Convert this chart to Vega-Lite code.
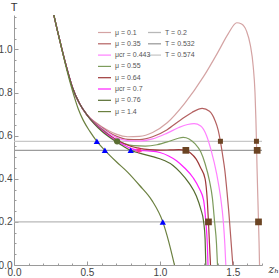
{
"$schema": "https://vega.github.io/schema/vega-lite/v6.json",
"autosize": {"type": "none"},
"width": 248, "height": 250,
"padding": {"left": 14, "top": 15, "right": 17, "bottom": 13},
"background": "white",
"config": {"view": {"stroke": null}, "font": "Liberation Sans"},
"datasets": {
"tl": [
{"z":0,"T":0.2,"line":"T = 0.2"},{"z":1.7,"T":0.2,"line":"T = 0.2"},
{"z":0,"T":0.532,"line":"T = 0.532"},{"z":1.7,"T":0.532,"line":"T = 0.532"},
{"z":0,"T":0.574,"line":"T = 0.574"},{"z":1.7,"T":0.574,"line":"T = 0.574"}],
"curves": [
{"mu":"μ = 0.1","z":0.259,"T":1.2},{"mu":"μ = 0.1","z":0.274,"T":1.157},{"mu":"μ = 0.1","z":0.30,"T":1.08},{"mu":"μ = 0.1","z":0.33,"T":0.997},{"mu":"μ = 0.1","z":0.36,"T":0.918},{"mu":"μ = 0.1","z":0.40,"T":0.825},{"mu":"μ = 0.1","z":0.45,"T":0.748},{"mu":"μ = 0.1","z":0.50,"T":0.697},
{"mu":"μ = 0.1","z":0.55,"T":0.667},{"mu":"μ = 0.1","z":0.60,"T":0.643},{"mu":"μ = 0.1","z":0.65,"T":0.623},{"mu":"μ = 0.1","z":0.70,"T":0.607},{"mu":"μ = 0.1","z":0.78,"T":0.595},{"mu":"μ = 0.1","z":0.86,"T":0.597},{"mu":"μ = 0.1","z":0.95,"T":0.615},{"mu":"μ = 0.1","z":1.05,"T":0.66},{"mu":"μ = 0.1","z":1.17,"T":0.75},{"mu":"μ = 0.1","z":1.30,"T":0.875},{"mu":"μ = 0.1","z":1.40,"T":0.99},{"mu":"μ = 0.1","z":1.47,"T":1.075},{"mu":"μ = 0.1","z":1.527,"T":1.124},{"mu":"μ = 0.1","z":1.56,"T":1.118},{"mu":"μ = 0.1","z":1.594,"T":1.085},{"mu":"μ = 0.1","z":1.62,"T":1.02},{"mu":"μ = 0.1","z":1.64,"T":0.92},{"mu":"μ = 0.1","z":1.652,"T":0.8},{"mu":"μ = 0.1","z":1.658,"T":0.68},{"mu":"μ = 0.1","z":1.662,"T":0.574},{"mu":"μ = 0.1","z":1.666,"T":0.45},{"mu":"μ = 0.1","z":1.672,"T":0.3},{"mu":"μ = 0.1","z":1.676,"T":0.2},{"mu":"μ = 0.1","z":1.68,"T":0.1},{"mu":"μ = 0.1","z":1.683,"T":0},

{"mu":"μ = 0.35","z":0.259,"T":1.2},{"mu":"μ = 0.35","z":0.274,"T":1.157},{"mu":"μ = 0.35","z":0.30,"T":1.08},{"mu":"μ = 0.35","z":0.33,"T":0.997},{"mu":"μ = 0.35","z":0.36,"T":0.918},{"mu":"μ = 0.35","z":0.40,"T":0.825},{"mu":"μ = 0.35","z":0.45,"T":0.748},{"mu":"μ = 0.35","z":0.50,"T":0.697},
{"mu":"μ = 0.35","z":0.55,"T":0.664},{"mu":"μ = 0.35","z":0.60,"T":0.639},{"mu":"μ = 0.35","z":0.65,"T":0.616},{"mu":"μ = 0.35","z":0.70,"T":0.598},{"mu":"μ = 0.35","z":0.78,"T":0.583},{"mu":"μ = 0.35","z":0.86,"T":0.582},{"mu":"μ = 0.35","z":0.95,"T":0.595},{"mu":"μ = 0.35","z":1.05,"T":0.628},{"mu":"μ = 0.35","z":1.14,"T":0.672},{"mu":"μ = 0.35","z":1.22,"T":0.708},{"mu":"μ = 0.35","z":1.29,"T":0.727},{"mu":"μ = 0.35","z":1.34,"T":0.713},{"mu":"μ = 0.35","z":1.377,"T":0.672},{"mu":"μ = 0.35","z":1.40,"T":0.625},{"mu":"μ = 0.35","z":1.415,"T":0.574},{"mu":"μ = 0.35","z":1.43,"T":0.51},{"mu":"μ = 0.35","z":1.445,"T":0.44},{"mu":"μ = 0.35","z":1.46,"T":0.34},{"mu":"μ = 0.35","z":1.472,"T":0.25},{"mu":"μ = 0.35","z":1.48,"T":0.18},{"mu":"μ = 0.35","z":1.49,"T":0.09},{"mu":"μ = 0.35","z":1.50,"T":0},

{"mu":"μcr = 0.443","z":0.259,"T":1.2},{"mu":"μcr = 0.443","z":0.274,"T":1.157},{"mu":"μcr = 0.443","z":0.30,"T":1.08},{"mu":"μcr = 0.443","z":0.33,"T":0.997},{"mu":"μcr = 0.443","z":0.36,"T":0.918},{"mu":"μcr = 0.443","z":0.40,"T":0.825},{"mu":"μcr = 0.443","z":0.45,"T":0.748},{"mu":"μcr = 0.443","z":0.50,"T":0.697},
{"mu":"μcr = 0.443","z":0.55,"T":0.662},{"mu":"μcr = 0.443","z":0.60,"T":0.636},{"mu":"μcr = 0.443","z":0.65,"T":0.612},{"mu":"μcr = 0.443","z":0.70,"T":0.592},{"mu":"μcr = 0.443","z":0.78,"T":0.577},{"mu":"μcr = 0.443","z":0.86,"T":0.575},{"mu":"μcr = 0.443","z":0.95,"T":0.585},{"mu":"μcr = 0.443","z":1.05,"T":0.612},{"mu":"μcr = 0.443","z":1.13,"T":0.638},{"mu":"μcr = 0.443","z":1.19,"T":0.652},{"mu":"μcr = 0.443","z":1.235,"T":0.656},{"mu":"μcr = 0.443","z":1.28,"T":0.645},{"mu":"μcr = 0.443","z":1.32,"T":0.60},{"mu":"μcr = 0.443","z":1.35,"T":0.535},{"mu":"μcr = 0.443","z":1.39,"T":0.42},{"mu":"μcr = 0.443","z":1.415,"T":0.32},{"mu":"μcr = 0.443","z":1.435,"T":0.2},{"mu":"μcr = 0.443","z":1.445,"T":0.1},{"mu":"μcr = 0.443","z":1.452,"T":0},

{"mu":"μ = 0.55","z":0.259,"T":1.2},{"mu":"μ = 0.55","z":0.274,"T":1.157},{"mu":"μ = 0.55","z":0.30,"T":1.08},{"mu":"μ = 0.55","z":0.33,"T":0.997},{"mu":"μ = 0.55","z":0.36,"T":0.918},{"mu":"μ = 0.55","z":0.40,"T":0.825},{"mu":"μ = 0.55","z":0.45,"T":0.748},{"mu":"μ = 0.55","z":0.50,"T":0.697},
{"mu":"μ = 0.55","z":0.55,"T":0.66},{"mu":"μ = 0.55","z":0.60,"T":0.632},{"mu":"μ = 0.55","z":0.65,"T":0.605},{"mu":"μ = 0.55","z":0.707,"T":0.576},{"mu":"μ = 0.55","z":0.76,"T":0.562},{"mu":"μ = 0.55","z":0.82,"T":0.554},{"mu":"μ = 0.55","z":0.90,"T":0.552},{"mu":"μ = 0.55","z":0.98,"T":0.558},{"mu":"μ = 0.55","z":1.06,"T":0.573},{"mu":"μ = 0.55","z":1.12,"T":0.587},{"mu":"μ = 0.55","z":1.16,"T":0.592},{"mu":"μ = 0.55","z":1.20,"T":0.585},{"mu":"μ = 0.55","z":1.24,"T":0.563},{"mu":"μ = 0.55","z":1.28,"T":0.525},{"mu":"μ = 0.55","z":1.31,"T":0.47},{"mu":"μ = 0.55","z":1.34,"T":0.39},{"mu":"μ = 0.55","z":1.36,"T":0.31},{"mu":"μ = 0.55","z":1.375,"T":0.2},{"mu":"μ = 0.55","z":1.388,"T":0.1},{"mu":"μ = 0.55","z":1.395,"T":0},

{"mu":"μ = 0.64","z":0.259,"T":1.2},{"mu":"μ = 0.64","z":0.274,"T":1.157},{"mu":"μ = 0.64","z":0.30,"T":1.08},{"mu":"μ = 0.64","z":0.33,"T":0.997},{"mu":"μ = 0.64","z":0.36,"T":0.918},{"mu":"μ = 0.64","z":0.40,"T":0.825},{"mu":"μ = 0.64","z":0.45,"T":0.748},{"mu":"μ = 0.64","z":0.50,"T":0.697},
{"mu":"μ = 0.64","z":0.55,"T":0.658},{"mu":"μ = 0.64","z":0.60,"T":0.628},{"mu":"μ = 0.64","z":0.65,"T":0.603},{"mu":"μ = 0.64","z":0.70,"T":0.582},{"mu":"μ = 0.64","z":0.75,"T":0.565},{"mu":"μ = 0.64","z":0.80,"T":0.551},{"mu":"μ = 0.64","z":0.86,"T":0.541},{"mu":"μ = 0.64","z":0.93,"T":0.535},{"mu":"μ = 0.64","z":1.0,"T":0.533},{"mu":"μ = 0.64","z":1.07,"T":0.534},{"mu":"μ = 0.64","z":1.13,"T":0.535},{"mu":"μ = 0.64","z":1.178,"T":0.532},{"mu":"μ = 0.64","z":1.21,"T":0.52},{"mu":"μ = 0.64","z":1.25,"T":0.49},{"mu":"μ = 0.64","z":1.28,"T":0.45},{"mu":"μ = 0.64","z":1.31,"T":0.40},{"mu":"μ = 0.64","z":1.325,"T":0.30},{"mu":"μ = 0.64","z":1.333,"T":0.2},{"mu":"μ = 0.64","z":1.34,"T":0.1},{"mu":"μ = 0.64","z":1.347,"T":0},

{"mu":"μcr = 0.7","z":0.259,"T":1.2},{"mu":"μcr = 0.7","z":0.274,"T":1.157},{"mu":"μcr = 0.7","z":0.30,"T":1.08},{"mu":"μcr = 0.7","z":0.33,"T":0.997},{"mu":"μcr = 0.7","z":0.36,"T":0.918},{"mu":"μcr = 0.7","z":0.40,"T":0.825},{"mu":"μcr = 0.7","z":0.45,"T":0.748},{"mu":"μcr = 0.7","z":0.50,"T":0.697},
{"mu":"μcr = 0.7","z":0.55,"T":0.657},{"mu":"μcr = 0.7","z":0.60,"T":0.626},{"mu":"μcr = 0.7","z":0.65,"T":0.60},{"mu":"μcr = 0.7","z":0.70,"T":0.578},{"mu":"μcr = 0.7","z":0.75,"T":0.558},{"mu":"μcr = 0.7","z":0.80,"T":0.541},{"mu":"μcr = 0.7","z":0.856,"T":0.532},{"mu":"μcr = 0.7","z":0.92,"T":0.529},{"mu":"μcr = 0.7","z":1.0,"T":0.522},{"mu":"μcr = 0.7","z":1.06,"T":0.506},{"mu":"μcr = 0.7","z":1.114,"T":0.484},{"mu":"μcr = 0.7","z":1.17,"T":0.45},{"mu":"μcr = 0.7","z":1.228,"T":0.405},{"mu":"μcr = 0.7","z":1.27,"T":0.355},{"mu":"μcr = 0.7","z":1.30,"T":0.30},{"mu":"μcr = 0.7","z":1.315,"T":0.2},{"mu":"μcr = 0.7","z":1.325,"T":0.1},{"mu":"μcr = 0.7","z":1.33,"T":0},

{"mu":"μ = 0.76","z":0.259,"T":1.2},{"mu":"μ = 0.76","z":0.274,"T":1.157},{"mu":"μ = 0.76","z":0.30,"T":1.08},{"mu":"μ = 0.76","z":0.33,"T":0.997},{"mu":"μ = 0.76","z":0.36,"T":0.918},{"mu":"μ = 0.76","z":0.40,"T":0.825},{"mu":"μ = 0.76","z":0.45,"T":0.748},{"mu":"μ = 0.76","z":0.50,"T":0.697},
{"mu":"μ = 0.76","z":0.55,"T":0.655},{"mu":"μ = 0.76","z":0.60,"T":0.622},{"mu":"μ = 0.76","z":0.65,"T":0.595},{"mu":"μ = 0.76","z":0.70,"T":0.572},{"mu":"μ = 0.76","z":0.75,"T":0.551},{"mu":"μ = 0.76","z":0.80,"T":0.532},{"mu":"μ = 0.76","z":0.86,"T":0.519},{"mu":"μ = 0.76","z":0.95,"T":0.503},{"mu":"μ = 0.76","z":1.03,"T":0.485},{"mu":"μ = 0.76","z":1.09,"T":0.462},{"mu":"μ = 0.76","z":1.14,"T":0.43},{"mu":"μ = 0.76","z":1.20,"T":0.38},{"mu":"μ = 0.76","z":1.25,"T":0.32},{"mu":"μ = 0.76","z":1.28,"T":0.26},{"mu":"μ = 0.76","z":1.30,"T":0.2},{"mu":"μ = 0.76","z":1.31,"T":0.12},{"mu":"μ = 0.76","z":1.315,"T":0},

{"mu":"μ = 1.4","z":0.259,"T":1.2},{"mu":"μ = 1.4","z":0.274,"T":1.157},{"mu":"μ = 1.4","z":0.30,"T":1.08},{"mu":"μ = 1.4","z":0.33,"T":0.995},{"mu":"μ = 1.4","z":0.36,"T":0.91},{"mu":"μ = 1.4","z":0.40,"T":0.81},{"mu":"μ = 1.4","z":0.44,"T":0.725},{"mu":"μ = 1.4","z":0.475,"T":0.671},{"mu":"μ = 1.4","z":0.52,"T":0.62},{"mu":"μ = 1.4","z":0.568,"T":0.574},{"mu":"μ = 1.4","z":0.623,"T":0.532},{"mu":"μ = 1.4","z":0.70,"T":0.48},{"mu":"μ = 1.4","z":0.78,"T":0.43},{"mu":"μ = 1.4","z":0.86,"T":0.37},{"mu":"μ = 1.4","z":0.945,"T":0.30},{"mu":"μ = 1.4","z":1.02,"T":0.2},{"mu":"μ = 1.4","z":1.06,"T":0.11},{"mu":"μ = 1.4","z":1.10,"T":0}
],
"tri": [{"z":0.568,"T":0.574},{"z":0.623,"T":0.532},{"z":0.80,"T":0.532},{"z":1.02,"T":0.2}],
"dot": [{"z":0.707,"T":0.574}],
"star": [{"z":0.856,"T":0.532}],
"sqbig": [{"z":1.178,"T":0.532},{"z":1.667,"T":0.532},{"z":1.333,"T":0.2},{"z":1.676,"T":0.2}],
"sqsmall": [{"z":1.415,"T":0.574},{"z":1.662,"T":0.574}]
},
"encoding": {
"x": {"field": "z", "type": "quantitative", "scale": {"domain": [0, 1.7], "nice": false, "zero": false},
 "axis": {"orient": "bottom", "values": [0,0.1,0.2,0.3,0.4,0.5,0.6,0.7,0.8,0.9,1.0,1.1,1.2,1.3,1.4,1.5,1.6,1.7],
  "labelExpr": "abs(datum.value*2 - round(datum.value*2)) < 0.001 ? format(datum.value, '.1f') : ''",
  "tickSize": {"condition": {"test": "abs(datum.value*2 - round(datum.value*2)) < 0.001", "value": -4}, "value": -2},
  "grid": false, "domainColor": "#9a9a9a", "tickColor": "#9a9a9a", "labelColor": "#444", "labelFontSize": 10,
  "labelPadding": 6, "labelOverlap": false, "labelFlush": false, "labelBound": false,
  "title": "zₕ", "titleAnchor": "start", "titleAlign": "left", "titleBaseline": "alphabetic", "titleX": 254, "titleY": 7,
  "titleFontSize": 11, "titleFontStyle": "italic", "titleFontWeight": "normal", "titleColor": "#333", "titleFont": "DejaVu Serif"}},
"y": {"field": "T", "type": "quantitative", "scale": {"domain": [0, 1.16], "nice": false, "zero": false},
 "axis": {"orient": "left", "values": [0,0.05,0.1,0.15,0.2,0.25,0.3,0.35,0.4,0.45,0.5,0.55,0.6,0.65,0.7,0.75,0.8,0.85,0.9,0.95,1.0,1.05,1.1,1.15],
  "labelExpr": "abs(datum.value*5 - round(datum.value*5)) < 0.001 ? format(datum.value, '.1f') : ''",
  "tickSize": {"condition": {"test": "abs(datum.value*5 - round(datum.value*5)) < 0.001", "value": -4}, "value": -2},
  "grid": false, "domainColor": "#9a9a9a", "tickColor": "#9a9a9a", "labelColor": "#444", "labelFontSize": 10,
  "labelPadding": 6, "labelOverlap": false, "labelFlush": false, "labelBound": false,
  "title": "T", "titleAngle": 0, "titleAlign": "center", "titleBaseline": "alphabetic", "titleX": -0.5, "titleY": -5,
  "titleFontSize": 11, "titleFontWeight": "normal", "titleColor": "#333"}}
},
"layer": [
{"data": {"name": "tl"}, "mark": {"type": "line", "strokeWidth": 1.3},
 "encoding": {"stroke": {"field": "line", "type": "nominal",
   "scale": {"domain": ["T = 0.2", "T = 0.532", "T = 0.574"], "range": ["#b8b8b8", "#9c9c9c", "#c8c8c8"]},
   "legend": {"orient": "none", "legendX": 133, "legendY": 10, "title": null, "symbolType": "stroke", "symbolSize": 169, "symbolStrokeWidth": 1.3,
     "labelFontSize": 7, "labelColor": "#555", "labelOffset": 3, "rowPadding": 0.3, "padding": 0}}}},
{"data": {"name": "curves"}, "mark": {"type": "line", "interpolate": "monotone", "clip": true},
 "encoding": {
  "color": {"field": "mu", "type": "nominal",
   "scale": {"domain": ["μ = 0.1","μ = 0.35","μcr = 0.443","μ = 0.55","μ = 0.64","μcr = 0.7","μ = 0.76","μ = 1.4"],
     "range": ["#d4a3a3","#b36060","#ff80ff","#7d9c5c","#9e3838","#ff1fff","#556b2f","#6b8040"]},
   "legend": {"orient": "none", "legendX": 83, "legendY": 10, "title": null, "symbolType": "stroke", "symbolSize": 169,
     "labelFontSize": 7, "labelColor": "#555", "labelOffset": 3, "rowPadding": 0.3, "padding": 0}},
  "strokeWidth": {"field": "mu", "type": "nominal",
   "scale": {"domain": ["μ = 0.1","μ = 0.35","μcr = 0.443","μ = 0.55","μ = 0.64","μcr = 0.7","μ = 0.76","μ = 1.4"],
     "range": [1.2,1.2,1.2,1.2,1.2,1.2,2,3]}}
 }},
{"data": {"name": "tri"}, "mark": {"type": "point", "shape": "triangle-up", "filled": true, "color": "#0000ff", "size": 40, "opacity": 1}},
{"data": {"name": "dot"}, "mark": {"type": "point", "shape": "circle", "filled": true, "color": "#5a6e32", "size": 40, "opacity": 1}},
{"data": {"name": "star"}, "mark": {"type": "point", "shape": "M0,-1L0.2,-0.346L0.866,-0.5L0.4,0L0.866,0.5L0.2,0.346L0,1L-0.2,0.346L-0.866,0.5L-0.4,0L-0.866,-0.5L-0.2,-0.346Z", "filled": true, "color": "#ff3399", "size": 60, "opacity": 1}},
{"data": {"name": "sqbig"}, "mark": {"type": "point", "shape": "square", "filled": true, "color": "#6b4423", "size": 45, "opacity": 1}},
{"data": {"name": "sqsmall"}, "mark": {"type": "point", "shape": "square", "filled": true, "color": "#6b4423", "size": 25, "opacity": 1}}
]
}
